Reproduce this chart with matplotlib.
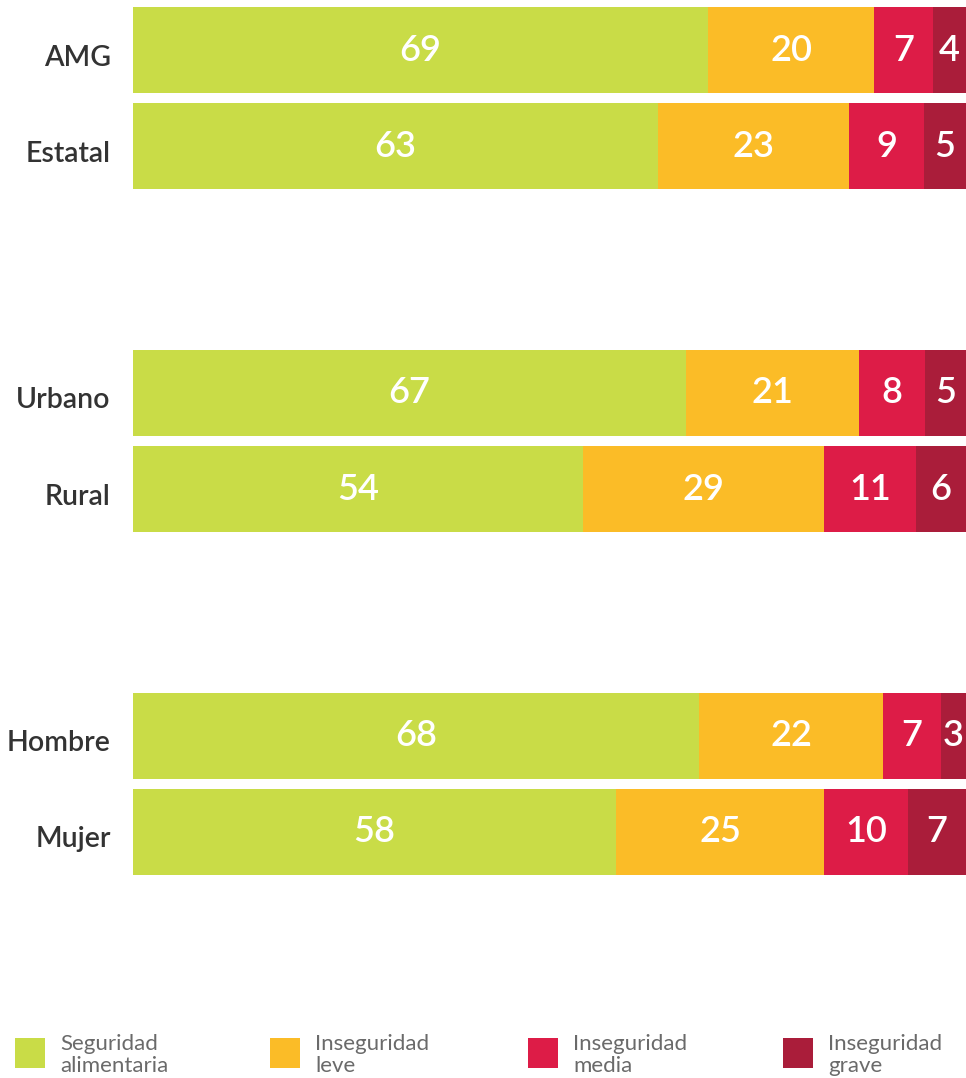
import numpy as np
import matplotlib
matplotlib.use("Agg")
import matplotlib.pyplot as plt
from matplotlib.patches import Rectangle
from matplotlib.transforms import ScaledTranslation

plt.rcParams["font.family"] = ["Lato", "DejaVu Sans"]

CATEGORIES = ["AMG", "Estatal", "Urbano", "Rural", "Hombre", "Mujer"]
GROUPS = [0, 0, 1, 1, 2, 2]

SEGURIDAD = [69, 63, 67, 54, 68, 58]
INS_LEVE = [20, 23, 21, 29, 22, 25]
INS_MEDIA = [7, 9, 8, 11, 7, 10]
INS_GRAVE = [4, 5, 5, 6, 3, 7]

SERIES_NAMES = ["Seguridad\nalimentaria", "Inseguridad\nleve", "Inseguridad\nmedia", "Inseguridad\ngrave"]
COLORS = ["#c9dc47", "#fbbc27", "#dd1c47", "#aa1d3a"]

W, H = 966, 1078
fig = plt.figure(figsize=(W / 100, H / 100), dpi=100)

# axes spans the bars: x 133..966 px, y 7..875 px
ax = fig.add_axes([133 / W, (H - 875) / H, (W - 133) / W, (875 - 7) / H])

group_pitch = 3.57
bar_h = 0.9
ypos = np.array([g * group_pitch + (i % 2) for i, g in enumerate(GROUPS)])

data = np.array([SEGURIDAD, INS_LEVE, INS_MEDIA, INS_GRAVE], dtype=float)
totals = data.sum(axis=0)
shares = data / totals * 100

left = np.zeros(len(CATEGORIES))
for k in range(4):
    ax.barh(ypos, shares[k], left=left, height=bar_h, color=COLORS[k], linewidth=0)
    for y, l, w, v in zip(ypos, left, shares[k], data[k]):
        ax.text(l + w / 2, y, f"{int(v)}", ha="center", va="center",
                color="white", fontsize=26, fontweight="semibold")
    left += shares[k]

ax.set_xlim(0, 100)
ax.set_ylim(ypos[-1] + bar_h / 2, ypos[0] - bar_h / 2)
ax.set_yticks(ypos)
ax.set_yticklabels(CATEGORIES, fontsize=20.5, color="#333333", fontweight="semibold")
ax.tick_params(axis="y", length=0, pad=16)
shift = ScaledTranslation(0, -5 / 100, fig.dpi_scale_trans)
for lab in ax.get_yticklabels():
    lab.set_transform(lab.get_transform() + shift)
ax.set_xticks([])
for s in ax.spines.values():
    s.set_visible(False)

# legend along the bottom
leg_x = [15, 270, 528, 783]
for x, name, c in zip(leg_x, SERIES_NAMES, COLORS):
    fig.add_artist(Rectangle((x / W, (H - 1068) / H), 30 / W, 30 / H,
                             transform=fig.transFigure, color=c, lw=0))
    fig.text((x + 45) / W, (H - 1055) / H, name, ha="left", va="center",
             fontsize=16, color="#6a6a6a", linespacing=1.15)

fig.savefig("out.png", dpi=100)
